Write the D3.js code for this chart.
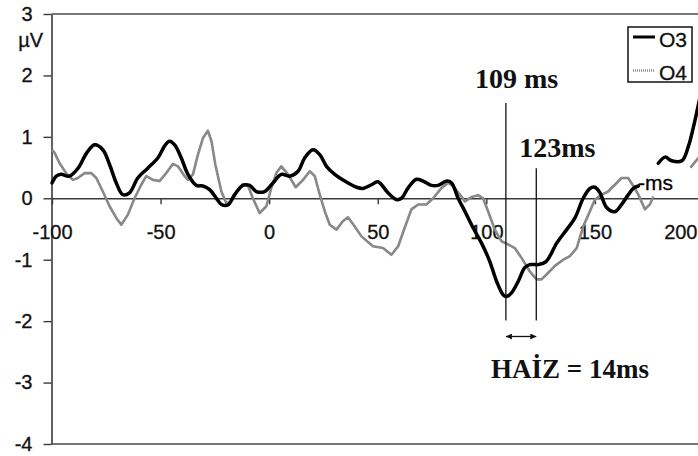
<!DOCTYPE html>
<html>
<head>
<meta charset="utf-8">
<script src="https://cdn.jsdelivr.net/npm/d3@7"></script>
<style>
  body { margin: 0; background: #fff; }
  svg { display: block; }
</style>
</head>
<body>
<svg id="chart" width="698" height="456"></svg>
<script>
// Averaged waveforms at occipital electrodes O3 and O4 (time in ms, amplitude in µV)
const o3Time = [-100, -98, -95.8, -92, -88, -84, -80.4, -76.6, -73.5, -70.4, -67.4, -64.3, -60.5, -55.9, -51.2, -48.2, -45.9, -43.5, -40.5, -37.4, -33.5, -30.5, -27.4, -24.3, -22, -19, -15.9, -12.1, -9, -5.9, -2.1, 1.75, 5.6, 9.4, 13.3, 16.4, 20.2, 23.3, 26.4, 30.2, 34.8, 40.2, 43.2, 47.1, 50.1, 54.7, 58.6, 60.9, 64, 67.8, 70.9, 74.7, 77.8, 81.7, 84, 87, 90.1, 93.9, 97.8, 101.6, 104.7, 107.7, 109.3, 111.6, 114.7, 117.7, 120, 123.9, 127.5, 132.4, 137, 140.8, 144.6, 147.7, 150, 152.3, 155.4, 159.2, 162.3, 165.4, 167.7, 170, 175, 179.2, 182.3, 185.3, 190, 193, 195.3, 197.5, 200];
const o3Value = [0.25, 0.36, 0.39, 0.36, 0.49, 0.74, 0.87, 0.79, 0.55, 0.25, 0.06, 0.09, 0.33, 0.49, 0.66, 0.85, 0.93, 0.87, 0.66, 0.39, 0.21, 0.2, 0.14, 0.0, -0.1, -0.11, 0.06, 0.21, 0.21, 0.11, 0.11, 0.25, 0.39, 0.36, 0.44, 0.66, 0.79, 0.71, 0.52, 0.39, 0.28, 0.18, 0.16, 0.22, 0.27, 0.09, -0.02, 0.0, 0.17, 0.31, 0.28, 0.21, 0.21, 0.28, 0.25, 0.0, -0.21, -0.48, -0.73, -1.03, -1.35, -1.57, -1.6, -1.54, -1.35, -1.13, -1.08, -1.08, -1.03, -0.73, -0.51, -0.32, 0.0, 0.16, 0.18, 0.09, -0.15, -0.22, -0.1, 0.06, 0.16, 0.2, null, 0.57, 0.67, 0.61, 0.61, 0.84, 1.15, 1.5, 1.9];

const o4Time = [-100, -98.8, -96.5, -93.5, -90.4, -88.1, -85, -81.9, -79.6, -76.6, -73.5, -70.4, -68.1, -65.1, -62, -58.9, -56.6, -53.5, -50.5, -47.4, -44.3, -42, -38.9, -37.4, -35.1, -32.8, -30.5, -28.2, -26.5, -24.8, -22, -19.7, -17.4, -15.1, -12.1, -9.8, -7.5, -4.4, -1.3, 1, 3.3, 5.6, 8.7, 12.2, 15.6, 18.7, 21, 23.3, 25.6, 27.9, 31, 34, 36.3, 39.4, 42.5, 47.8, 52.4, 56.3, 59.4, 62.4, 65.5, 68.6, 72.4, 75.5, 79.4, 82.4, 84.7, 87.8, 90.1, 93.2, 96.2, 98.5, 100.8, 103.9, 107, 110, 113.1, 116.2, 120, 123.1, 125.4, 127.7, 131.6, 135.4, 138.5, 141.6, 144.6, 147.7, 150, 153.1, 156.1, 159.2, 162.3, 165.3, 167.7, 170, 173, 175.3, 176.9, 185, 194, 197.5, 200];
const o4Value = [0.79, 0.74, 0.57, 0.41, 0.3, 0.33, 0.41, 0.41, 0.33, 0.11, -0.13, -0.32, -0.43, -0.27, 0.0, 0.22, 0.36, 0.3, 0.28, 0.41, 0.56, 0.52, 0.36, 0.3, 0.39, 0.71, 0.98, 1.1, 0.92, 0.55, 0.11, -0.08, -0.05, 0.09, 0.23, 0.21, 0.0, -0.24, -0.13, 0.17, 0.41, 0.52, 0.39, 0.18, 0.3, 0.44, 0.36, 0.06, -0.21, -0.43, -0.51, -0.37, -0.31, -0.46, -0.62, -0.78, -0.81, -0.92, -0.78, -0.48, -0.18, -0.1, -0.1, 0.0, 0.17, 0.25, 0.2, 0.06, -0.05, 0.02, 0.05, 0.0, -0.21, -0.51, -0.7, -0.75, -0.81, -0.97, -1.19, -1.32, -1.32, -1.24, -1.1, -1.0, -0.94, -0.81, -0.46, -0.21, -0.02, 0.06, 0.11, 0.22, 0.33, 0.33, 0.2, 0.06, -0.18, -0.1, 0.03, null, 0.5, 0.65, 0.75];

const seriesNames = ["O3", "O4"];
const xTicks = [-100, -50, 0, 50, 100, 150, 200];
const xTickLabels = ["-100", "-50", "0", "50", "100", "150", "200"];
const yTicks = [3, 2, 1, 0, -1, -2, -3, -4];
const yTickLabels = ["3", "2", "1", "0", "-1", "-2", "-3", "-4"];
const yUnit = "µV";
const xUnit = "-ms";
const peakLatencies = [109, 123];
const peakLabels = ["109 ms", "123ms"];
const differenceLabel = "HAİZ = 14ms";

const W = 698, H = 456;
const svg = d3.select("#chart");
const sans = "Arial, 'Liberation Sans', sans-serif";
const serif = "'Times New Roman', 'Liberation Serif', serif";

const x = d3.scaleLinear().domain([-100, 200]).range([52, 703.5]);
const y = d3.scaleLinear().domain([-4, 3]).range([444, 14]);
const axisColor = "#3a3a3a";

// frame lines at top and bottom of the plot area
[3, -4].forEach(v => {
  svg.append("line")
    .attr("x1", 51.5).attr("x2", W)
    .attr("y1", y(v)).attr("y2", y(v))
    .attr("stroke", "#4a4a4a").attr("stroke-width", 1.6);
});

// y axis
const yAxis = svg.append("g")
  .attr("transform", "translate(51.5,0)")
  .call(d3.axisLeft(y).tickValues(yTicks)
    .tickFormat((d, i) => yTickLabels[i])
    .tickSize(8).tickSizeOuter(0).tickPadding(11));
yAxis.select(".domain").attr("stroke", axisColor).attr("stroke-width", 1.6);
yAxis.selectAll(".tick line").attr("stroke", axisColor).attr("stroke-width", 1.4);
yAxis.selectAll("text").attr("font-family", sans).attr("font-size", 20).attr("fill", "#111")
  .attr("stroke", "#111").attr("stroke-width", 0.3);

svg.append("text")
  .attr("x", 43).attr("y", 47)
  .attr("text-anchor", "end")
  .attr("font-family", sans).attr("font-size", 20).attr("fill", "#111")
  .attr("stroke", "#111").attr("stroke-width", 0.3)
  .text(yUnit);

// x axis through zero
const xAxis = svg.append("g")
  .attr("transform", `translate(0,${y(0)})`)
  .call(d3.axisBottom(x).tickValues(xTicks)
    .tickFormat((d, i) => xTickLabels[i])
    .tickSize(6).tickSizeOuter(0).tickPadding(21));
xAxis.select(".domain").attr("stroke", axisColor).attr("stroke-width", 1.5);
xAxis.selectAll(".tick line").attr("stroke", axisColor).attr("stroke-width", 1.4);
xAxis.selectAll("text").attr("font-family", sans).attr("font-size", 20).attr("fill", "#111")
  .attr("stroke", "#111").attr("stroke-width", 0.3);
// keep the last label inside the frame
xAxis.selectAll(".tick").each(function(d) {
  const t = d3.select(this).select("text");
  const w = t.node().getComputedTextLength();
  if (x(d) + w / 2 > W - 1) {
    t.attr("text-anchor", "end").attr("x", (W - 1) - x(d));
  }
});

// series
const o3 = o3Time.map((t, i) => ({ t, v: o3Value[i] }));
const o4 = o4Time.map((t, i) => ({ t, v: o4Value[i] }));

const lineO4 = d3.line().defined(d => d.v !== null)
  .x(d => x(d.t)).y(d => y(d.v)).curve(d3.curveLinear);
const lineO3 = d3.line().defined(d => d.v !== null)
  .x(d => x(d.t)).y(d => y(d.v)).curve(d3.curveCatmullRom.alpha(0.5));

svg.append("path").datum(o4)
  .attr("d", lineO4).attr("fill", "none")
  .attr("stroke", "#858585").attr("stroke-width", 2.6)
  .attr("stroke-linejoin", "round");
svg.append("path").datum(o4)
  .attr("d", lineO4).attr("fill", "none")
  .attr("stroke", "#a2a2a2").attr("stroke-width", 0.8)
  .attr("stroke-dasharray", "1 2");
svg.append("path").datum(o3)
  .attr("d", lineO3).attr("fill", "none")
  .attr("stroke", "#000").attr("stroke-width", 3.5)
  .attr("stroke-linejoin", "round").attr("stroke-linecap", "round");

// time unit beside the trace
svg.append("text")
  .attr("x", 638).attr("y", 190)
  .attr("font-family", sans).attr("font-size", 21).attr("fill", "#000")
  .attr("stroke", "#000").attr("stroke-width", 0.3)
  .text(xUnit);

// peak latency markers
const markerTops = [1.55, 0.49];
const markerBottom = -1.99;
peakLatencies.forEach((lat, i) => {
  svg.append("line")
    .attr("x1", x(lat)).attr("x2", x(lat))
    .attr("y1", y(markerTops[i])).attr("y2", y(markerBottom))
    .attr("stroke", "#111").attr("stroke-width", 1.3);
});
svg.append("text")
  .attr("x", x(peakLatencies[0]) - 31).attr("y", 88)
  .attr("font-family", serif).attr("font-weight", "bold").attr("font-size", 28).attr("fill", "#111")
  .text(peakLabels[0]);
svg.append("text")
  .attr("x", x(peakLatencies[1]) - 17).attr("y", 157)
  .attr("font-family", serif).attr("font-weight", "bold").attr("font-size", 28).attr("fill", "#111")
  .text(peakLabels[1]);

// double-headed arrow between the two peaks
const defs = svg.append("defs");
["start", "end"].forEach(k => {
  defs.append("marker")
    .attr("id", "arrow-" + k)
    .attr("viewBox", "0 0 10 10")
    .attr("refX", k === "end" ? 10 : 0).attr("refY", 5)
    .attr("markerWidth", 7).attr("markerHeight", 6)
    .attr("markerUnits", "userSpaceOnUse")
    .attr("orient", "auto")
    .append("path")
    .attr("d", k === "end" ? "M0,0 L10,5 L0,10 Z" : "M10,0 L0,5 L10,10 Z")
    .attr("fill", "#111");
});
const arrowY = y(-2.25);
svg.append("line")
  .attr("x1", x(peakLatencies[0])).attr("x2", x(peakLatencies[1]))
  .attr("y1", arrowY).attr("y2", arrowY)
  .attr("stroke", "#111").attr("stroke-width", 1.3)
  .attr("marker-start", "url(#arrow-start)").attr("marker-end", "url(#arrow-end)");

svg.append("text")
  .attr("x", 570).attr("y", 378)
  .attr("text-anchor", "middle")
  .attr("font-family", serif).attr("font-weight", "bold").attr("font-size", 27).attr("fill", "#111")
  .text(differenceLabel);

// legend
const lg = svg.append("g").attr("transform", "translate(628,27)");
lg.append("rect").attr("width", 64).attr("height", 55)
  .attr("fill", "#fff").attr("stroke", "#111").attr("stroke-width", 1.5);
const legendRows = [
  { name: seriesNames[0], ly: 10, ty: 12.5, color: "#000", width: 3, dash: null },
  { name: seriesNames[1], ly: 43.5, ty: 45.5, color: "#8f8f8f", width: 2.5, dash: "1 1" }
];
legendRows.forEach(r => {
  lg.append("line")
    .attr("x1", 5).attr("x2", 27).attr("y1", r.ly).attr("y2", r.ly)
    .attr("stroke", r.color).attr("stroke-width", r.width)
    .attr("stroke-dasharray", r.dash);
  lg.append("text")
    .attr("x", 31).attr("y", r.ty).attr("dy", "0.35em")
    .attr("font-family", sans).attr("font-size", 21).attr("fill", "#111")
    .attr("stroke", "#111").attr("stroke-width", 0.3)
    .text(r.name);
});
</script>
</body>
</html>
